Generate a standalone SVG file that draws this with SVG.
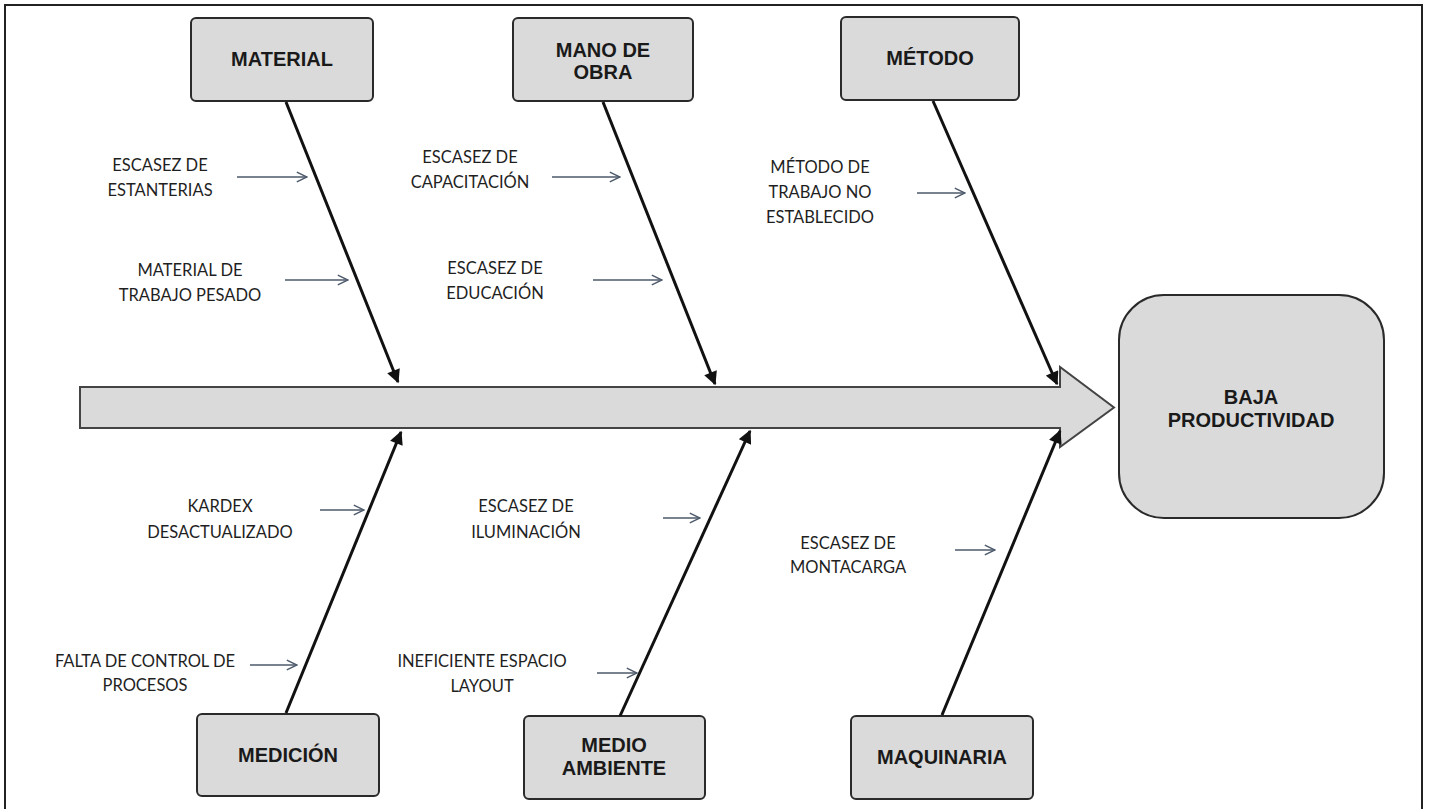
<svg xmlns="http://www.w3.org/2000/svg" width="1429" height="809" viewBox="0 0 1429 809">
<style>
.box{fill:#dadada;stroke:#2a2a2a;stroke-width:2}
.cat{font-family:"Liberation Sans",Arial,sans-serif;font-weight:bold;font-size:20px;fill:#1a1a1a;text-anchor:middle}
.sub{font-family:Lato,"Liberation Sans",sans-serif;font-size:16.5px;fill:#1f1f1f;text-anchor:middle}
.bone{stroke:#111;stroke-width:3;fill:none;marker-end:url(#ah)}
.small{stroke:#4d5a6b;stroke-width:1.5;fill:none;marker-end:url(#oh)}
</style>
<defs>
<marker id="ah" viewBox="0 0 10 10" refX="9" refY="5" markerWidth="5" markerHeight="4.5" orient="auto" markerUnits="strokeWidth">
<path d="M0,0 L10,5 L0,10 z" fill="#111"/>
</marker>
<marker id="oh" viewBox="0 0 10 10" refX="9.5" refY="5" markerWidth="8" markerHeight="8" orient="auto" markerUnits="strokeWidth">
<path d="M1,1 L9.5,5 L1,9" fill="none" stroke="#4d5a6b" stroke-width="1.2"/>
</marker>
</defs>
<rect x="0" y="0" width="1429" height="809" fill="#fff"/>
<rect x="5" y="5" width="1417" height="812" fill="none" stroke="#222" stroke-width="2"/>

<g id="spine">
<path d="M80,387 L1060,387 L1060,367 L1114,407.5 L1060,447 L1060,428 L80,428 Z" fill="#dadada" stroke="#444" stroke-width="2"/>
</g>

<g id="result">
<rect x="1119" y="295" width="265" height="223" rx="45" class="box"/>
<text class="cat" x="1251" y="404">BAJA</text>
<text class="cat" x="1251" y="427">PRODUCTIVIDAD</text>
</g>

<g id="material"><rect x="191" y="18" width="182" height="83" rx="5" class="box"/><text class="cat" x="282" y="66">MATERIAL</text></g>
<g id="mano-de-obra"><rect x="513" y="18" width="180" height="83" rx="5" class="box"/><text class="cat" x="603" y="57">MANO DE</text><text class="cat" x="603" y="79">OBRA</text></g>
<g id="metodo"><rect x="841" y="17" width="178" height="83" rx="5" class="box"/><text class="cat" x="930" y="65">MÉTODO</text></g>
<g id="medicion"><rect x="197" y="714" width="182" height="82" rx="5" class="box"/><text class="cat" x="288" y="762">MEDICIÓN</text></g>
<g id="medio-ambiente"><rect x="524" y="716" width="181" height="83" rx="5" class="box"/><text class="cat" x="614" y="752">MEDIO</text><text class="cat" x="614" y="775">AMBIENTE</text></g>
<g id="maquinaria"><rect x="851" y="716" width="182" height="83" rx="5" class="box"/><text class="cat" x="942" y="764">MAQUINARIA</text></g>

<g id="connectors">
<line class="bone" x1="286" y1="102" x2="398" y2="382"/>
<line class="bone" x1="603" y1="102" x2="715" y2="384"/>
<line class="bone" x1="933" y1="101" x2="1057" y2="384"/>
<line class="bone" x1="286" y1="713" x2="401" y2="432"/>
<line class="bone" x1="620" y1="716" x2="750" y2="431"/>
<line class="bone" x1="942" y1="715" x2="1060" y2="431"/>

<line class="small" x1="237" y1="177" x2="307" y2="177"/>
<line class="small" x1="285" y1="280" x2="348" y2="280"/>
<line class="small" x1="552" y1="177" x2="620" y2="177"/>
<line class="small" x1="593" y1="280" x2="662" y2="280"/>
<line class="small" x1="917" y1="193" x2="965" y2="193"/>
<line class="small" x1="320" y1="510" x2="364" y2="510"/>
<line class="small" x1="250" y1="665" x2="297" y2="665"/>
<line class="small" x1="663" y1="518" x2="700" y2="518"/>
<line class="small" x1="597" y1="673" x2="637" y2="673"/>
<line class="small" x1="955" y1="550" x2="995" y2="550"/>
</g>

<g id="causes">
<text class="sub" x="160" y="171">ESCASEZ DE</text><text class="sub" x="160" y="196">ESTANTERIAS</text>
<text class="sub" x="190" y="276">MATERIAL DE</text><text class="sub" x="190" y="301">TRABAJO PESADO</text>
<text class="sub" x="470" y="163">ESCASEZ DE</text><text class="sub" x="470" y="188">CAPACITACIÓN</text>
<text class="sub" x="495" y="274">ESCASEZ DE</text><text class="sub" x="495" y="299">EDUCACIÓN</text>
<text class="sub" x="820" y="173">MÉTODO DE</text><text class="sub" x="820" y="198">TRABAJO NO</text><text class="sub" x="820" y="223">ESTABLECIDO</text>
<text class="sub" x="220" y="512">KARDEX</text><text class="sub" x="220" y="538">DESACTUALIZADO</text>
<text class="sub" x="145" y="667">FALTA DE CONTROL DE</text><text class="sub" x="145" y="691">PROCESOS</text>
<text class="sub" x="526" y="512">ESCASEZ DE</text><text class="sub" x="526" y="538">ILUMINACIÓN</text>
<text class="sub" x="482" y="667">INEFICIENTE ESPACIO</text><text class="sub" x="482" y="692">LAYOUT</text>
<text class="sub" x="848" y="549">ESCASEZ DE</text><text class="sub" x="848" y="573">MONTACARGA</text>
</g>
</svg>
